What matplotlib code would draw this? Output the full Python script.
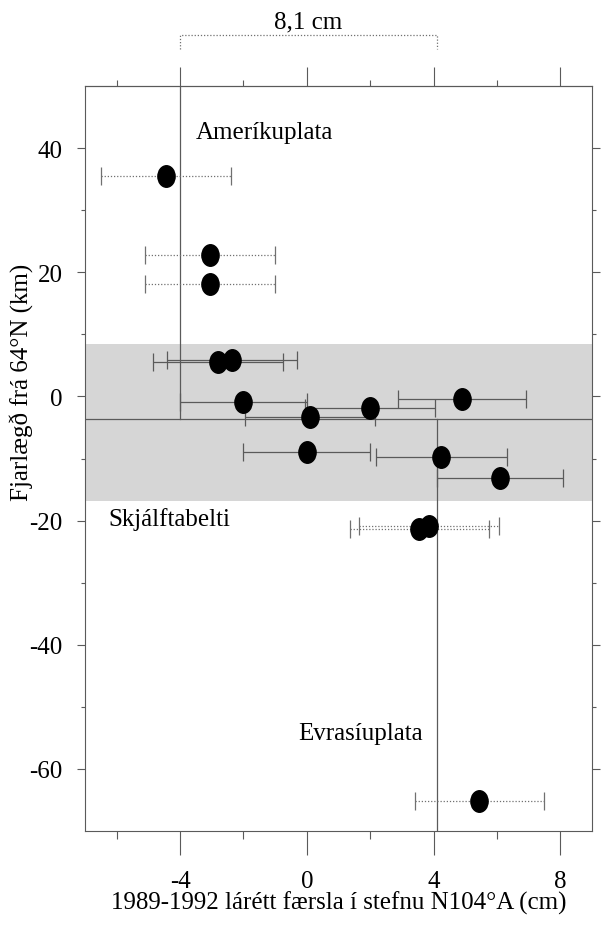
import matplotlib
matplotlib.use('Agg')
import matplotlib.pyplot as plt
from matplotlib.markers import MarkerStyle
from matplotlib.transforms import Affine2D

plt.rcParams['font.family'] = ['Liberation Serif', 'DejaVu Serif']
plt.rcParams['axes.unicode_minus'] = False

# stations outside the seismic zone (dotted error bars)
out_x = [-4.45, -3.05, -3.05, 3.55, 3.85, 5.45]
out_y = [35.5, 22.8, 18.1, -21.3, -20.8, -65.1]
out_err = [2.05, 2.05, 2.05, 2.2, 2.2, 2.05]

# stations inside the seismic zone (solid error bars)
in_x = [-2.8, -2.35, -2.0, 2.0, 0.1, 4.9, 0.0, 4.25, 6.1]
in_y = [5.5, 5.9, -0.95, -1.8, -3.3, -0.4, -9.0, -9.8, -13.1]
in_err = [2.05, 2.05, 2.0, 2.05, 2.05, 2.03, 2.0, 2.08, 2.0]

zone = (-16.8, 8.5)        # Skjálftabelti
boundary_y = -3.7          # plate boundary latitude
plate_x = (-4.0, 4.1)      # mean displacement, America / Eurasia

xticks = [-4, 0, 4, 8]
yticks = [40, 20, 0, -20, -40, -60]

fig = plt.figure(figsize=(6.01, 9.28), dpi=100)
ax = fig.add_axes([0.1414, 0.1034, 0.8436, 0.8028])
ax.set_xlim(-7, 9)
ax.set_ylim(-70, 50)

grey = '#5a5a5a'
ell = MarkerStyle('o', transform=Affine2D().scale(0.8, 1.0))

# shaded seismic zone
ax.axhspan(zone[0], zone[1], color='#d6d6d6', lw=0, zorder=0)

# plate boundary lines
ax.axhline(boundary_y, color=grey, lw=0.9, zorder=1)
ax.plot([plate_x[0], plate_x[0]], [boundary_y, 50], color=grey, lw=0.9, zorder=1)
ax.plot([plate_x[1], plate_x[1]], [boundary_y, -70], color=grey, lw=0.9, zorder=1)

# error bars
eb = ax.errorbar(out_x, out_y, xerr=out_err, fmt='none', ecolor='#707070',
                 elinewidth=0.9, capsize=6.8, capthick=0.9, zorder=2)
eb[2][0].set_linestyle((0, (1, 1.5)))
ax.errorbar(in_x, in_y, xerr=in_err, fmt='none', ecolor=grey,
            elinewidth=0.9, capsize=6.8, capthick=0.9, zorder=2)

ax.plot(out_x, out_y, ls='none', marker=ell, ms=15.5, color='black', zorder=5)
ax.plot(in_x, in_y, ls='none', marker=ell, ms=15.5, color='black', zorder=5)

# labels
ax.text(-3.5, 41.6, 'Ameríkuplata', fontsize=18, va='baseline')
ax.text(-6.26, -20.7, 'Skjálftabelti', fontsize=18, va='baseline')
ax.text(-0.28, -55.2, 'Evrasíuplata', fontsize=18, va='baseline')

# distance between the plates above the plot
ax.plot([plate_x[0], plate_x[0], plate_x[1], plate_x[1]], [56.0, 58.2, 58.2, 56.0],
        color='#707070', lw=0.9, ls=(0, (1, 1.5)), clip_on=False)
d = plate_x[1] - plate_x[0]
ax.text(sum(plate_x) / 2, 59.4, f'{d:.1f}'.replace('.', ',') + ' cm',
        fontsize=18, ha='center', va='baseline')

# axes and ticks
for s in ax.spines.values():
    s.set_color(grey)
    s.set_linewidth(0.8)

ax.set_xticks(xticks)
ax.set_xticks([-6, -2, 2, 6], minor=True)
ax.set_yticks(yticks)
ax.set_yticks([30, 10, -10, -30, -50], minor=True)
ax.tick_params(axis='x', which='major', direction='out', length=17, width=0.8,
               color=grey, labelsize=18, pad=11)
ax.tick_params(axis='x', which='minor', direction='out', length=6, width=0.8, color=grey)
ax.tick_params(axis='y', which='major', direction='out', length=6, width=0.8,
               color=grey, labelsize=18, pad=10)
ax.tick_params(axis='y', which='minor', direction='out', length=3, width=0.8, color=grey)
ax.tick_params(axis='y', which='both', right=True)

top = ax.secondary_xaxis('top')
top.set_xticks(xticks)
top.set_xticks([-6, -2, 2, 6], minor=True)
top.tick_params(which='major', direction='out', length=14, width=0.8, color=grey,
                labeltop=False)
top.tick_params(which='minor', direction='out', length=4, width=0.8, color=grey)
top.spines['top'].set_color(grey)
top.spines['top'].set_linewidth(0.8)

ax.set_xlabel('1989-1992 lárétt færsla í stefnu N104°A (cm)', fontsize=18)
ax.set_ylabel('Fjarlægð frá 64°N (km)', fontsize=18)
ax.xaxis.set_label_coords(0.5, -0.08)
ax.yaxis.set_label_coords(-0.10, 0.603)

fig.savefig('out.png', dpi=100)
